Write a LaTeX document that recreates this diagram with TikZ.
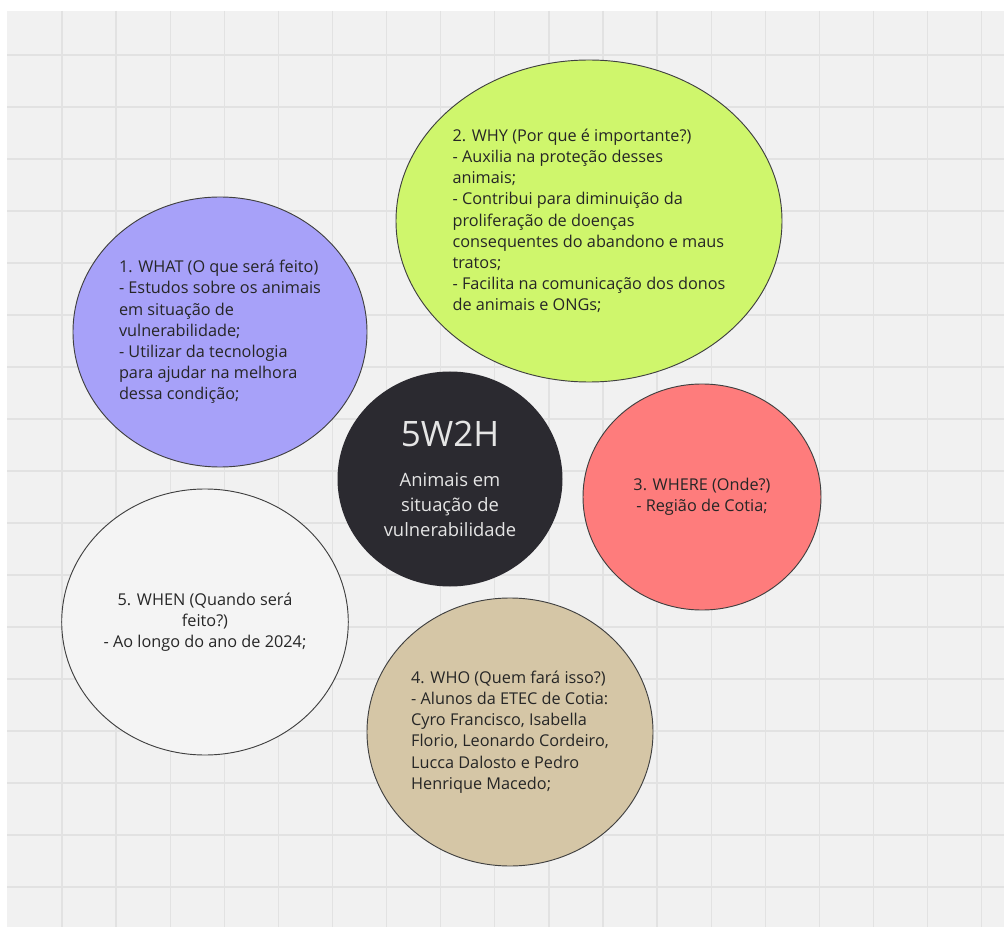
\documentclass[tikz,border=0pt]{standalone}
\usepackage{fontspec}
\setmainfont{Open Sans}
\usetikzlibrary{shapes.geometric}
\definecolor{boardbg}{HTML}{F1F1F1}
\definecolor{boardgrid}{HTML}{E2E2E2}
\definecolor{whatfill}{HTML}{A7A1F9}
\definecolor{whyfill}{HTML}{CFF66C}
\definecolor{wherefill}{HTML}{FE7C7C}
\definecolor{whofill}{HTML}{D5C6A6}
\definecolor{whenfill}{HTML}{F4F4F4}
\definecolor{hubfill}{HTML}{2B2A30}
\tikzset{
	bubble/.style={draw=black!75,line width=0.7pt,ellipse,inner sep=0pt,text=black!85,font=\fontsize{12.2}{15.9}\selectfont},
	hub/.style={ellipse,fill=hubfill,inner sep=0pt,text=white!90!black,align=center,font=\fontsize{13.8}{18.75}\selectfont}
}

\begin{document}
\begin{tikzpicture}[x=0.75pt,y=-0.75pt]
	\useasboundingbox (0,0) rectangle (1004,927);
	\fill[white] (0,0) rectangle (1004,927);
	\fill[boardbg] (7,11) rectangle (1004,927);
	\foreach \gx in {0,...,17}
		\draw[boardgrid,line width=1pt] ({62+54.1*\gx},11) -- ++(0,916);
	\foreach \gy in {0,...,16}
		\draw[boardgrid,line width=1pt] (7,{55+52*\gy}) -- (1004,{55+52*\gy});

	\node[bubble,fill=whatfill,align=left,minimum width=220.5pt,minimum height=202.5pt] (what) at (220,332) {1. WHAT (O que será feito)\\- Estudos sobre os animais\\em situação de\\vulnerabilidade;\\- Utilizar da tecnologia\\para ajudar na melhora\\dessa condição;};
	\node[bubble,fill=whyfill,align=left,minimum width=289.5pt,minimum height=241.5pt] (why) at (589,221) {2. WHY (Por que é importante?)\\- Auxilia na proteção desses\\animais;\\- Contribui para diminuição da\\proliferação de doenças\\consequentes do abandono e maus\\tratos;\\- Facilita na comunicação dos donos\\de animais e ONGs;};
	\node[hub,minimum width=168.75pt,minimum height=161.25pt] (hub) at (450,479) {{\fontsize{26.3}{30}\selectfont 5W2H}\\[11pt]Animais em\\situação de\\vulnerabilidade};
	\node[bubble,fill=wherefill,align=center,minimum width=178.5pt,minimum height=169.5pt] (where) at (702,497) {3. WHERE (Onde?)\\- Região de Cotia;};
	\node[bubble,fill=whenfill,align=center,minimum width=214.5pt,minimum height=199.5pt] (when) at (205,622) {5. WHEN (Quando será\\feito?)\\- Ao longo do ano de 2024;};
	\node[bubble,fill=whofill,align=left,minimum width=214.5pt,minimum height=201pt] (who) at (510,732) {4. WHO (Quem fará isso?)\\- Alunos da ETEC de Cotia:\\Cyro Francisco, Isabella\\Florio, Leonardo Cordeiro,\\Lucca Dalosto e Pedro\\Henrique Macedo;};
\end{tikzpicture}
\end{document}
